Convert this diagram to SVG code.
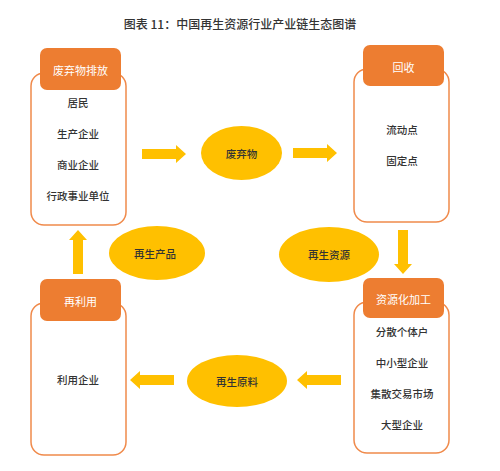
<svg xmlns="http://www.w3.org/2000/svg" width="500" height="471" viewBox="0 0 500 471">
<defs>
<style>
text{font-family:"Noto Sans CJK SC","Noto Sans",sans-serif;text-anchor:middle;dominant-baseline:central}
.title{font-size:12px;fill:#333;font-weight:500}
.box{fill:#fff;stroke:#F08A4B;stroke-width:1.5}
.hdr{fill:#ED7D31}
.ht{font-size:11px;fill:#fff}
.bt{font-size:10.5px;fill:#333;font-weight:500}
.ell{fill:#FFC000}
.et{font-size:10.5px;fill:#333;font-weight:500}
.arr{fill:#FFC000}
</style>
<path id="ar" d="M0,-5 L34,-5 L34,-9 L44,0 L34,9 L34,5 L0,5 Z"/>
</defs>
<rect width="500" height="471" fill="#fff"/>
<text class="title" x="240" y="23">图表 11：中国再生资源行业产业链生态图谱</text>

<g id="connectors">
<use href="#ar" class="arr" transform="translate(142,154)"/>
<use href="#ar" class="arr" transform="translate(293,153)"/>
<use href="#ar" class="arr" transform="translate(403,230) rotate(90)"/>
<use href="#ar" class="arr" transform="translate(341,380) rotate(180)"/>
<use href="#ar" class="arr" transform="translate(174,380) rotate(180)"/>
<use href="#ar" class="arr" transform="translate(78,274) rotate(-90)"/>
</g>

<g id="waste-discharge">
<rect class="box" x="31" y="73" width="95" height="152" rx="13"/>
<rect class="hdr" x="40" y="48" width="81" height="42" rx="7"/>
<text class="ht" x="80.5" y="70">废弃物排放</text>
<text class="bt" x="78" y="102">居民</text>
<text class="bt" x="78" y="133">生产企业</text>
<text class="bt" x="78" y="164">商业企业</text>
<text class="bt" x="78" y="195">行政事业单位</text>
</g>

<g id="recycle">
<rect class="box" x="354" y="69" width="95" height="153" rx="13"/>
<rect class="hdr" x="363" y="45" width="81" height="41" rx="7"/>
<text class="ht" x="403.5" y="67">回收</text>
<text class="bt" x="402" y="129">流动点</text>
<text class="bt" x="402" y="160">固定点</text>
</g>

<g id="reuse">
<rect class="box" x="31" y="303" width="95" height="152" rx="13"/>
<rect class="hdr" x="40" y="279" width="81" height="42" rx="7"/>
<text class="ht" x="80.5" y="301">再利用</text>
<text class="bt" x="78" y="379">利用企业</text>
</g>

<g id="processing">
<rect class="box" x="354" y="302" width="95" height="151" rx="13"/>
<rect class="hdr" x="363" y="278" width="81" height="40" rx="7"/>
<text class="ht" x="403.5" y="299">资源化加工</text>
<text class="bt" x="402" y="331">分散个体户</text>
<text class="bt" x="402" y="362">中小型企业</text>
<text class="bt" x="402" y="393">集散交易市场</text>
<text class="bt" x="402" y="424">大型企业</text>
</g>

<g id="waste">
<ellipse class="ell" cx="241.5" cy="153" rx="40.5" ry="27"/>
<text class="et" x="241.5" y="153">废弃物</text>
</g>
<g id="recycled-products">
<ellipse class="ell" cx="157" cy="253" rx="48" ry="27"/>
<text class="et" x="155" y="253">再生产品</text>
</g>
<g id="recycled-resources">
<ellipse class="ell" cx="329" cy="254.5" rx="50" ry="27.5"/>
<text class="et" x="329" y="254">再生资源</text>
</g>
<g id="recycled-materials">
<ellipse class="ell" cx="237" cy="381" rx="50" ry="26"/>
<text class="et" x="237" y="381">再生原料</text>
</g>
</svg>
